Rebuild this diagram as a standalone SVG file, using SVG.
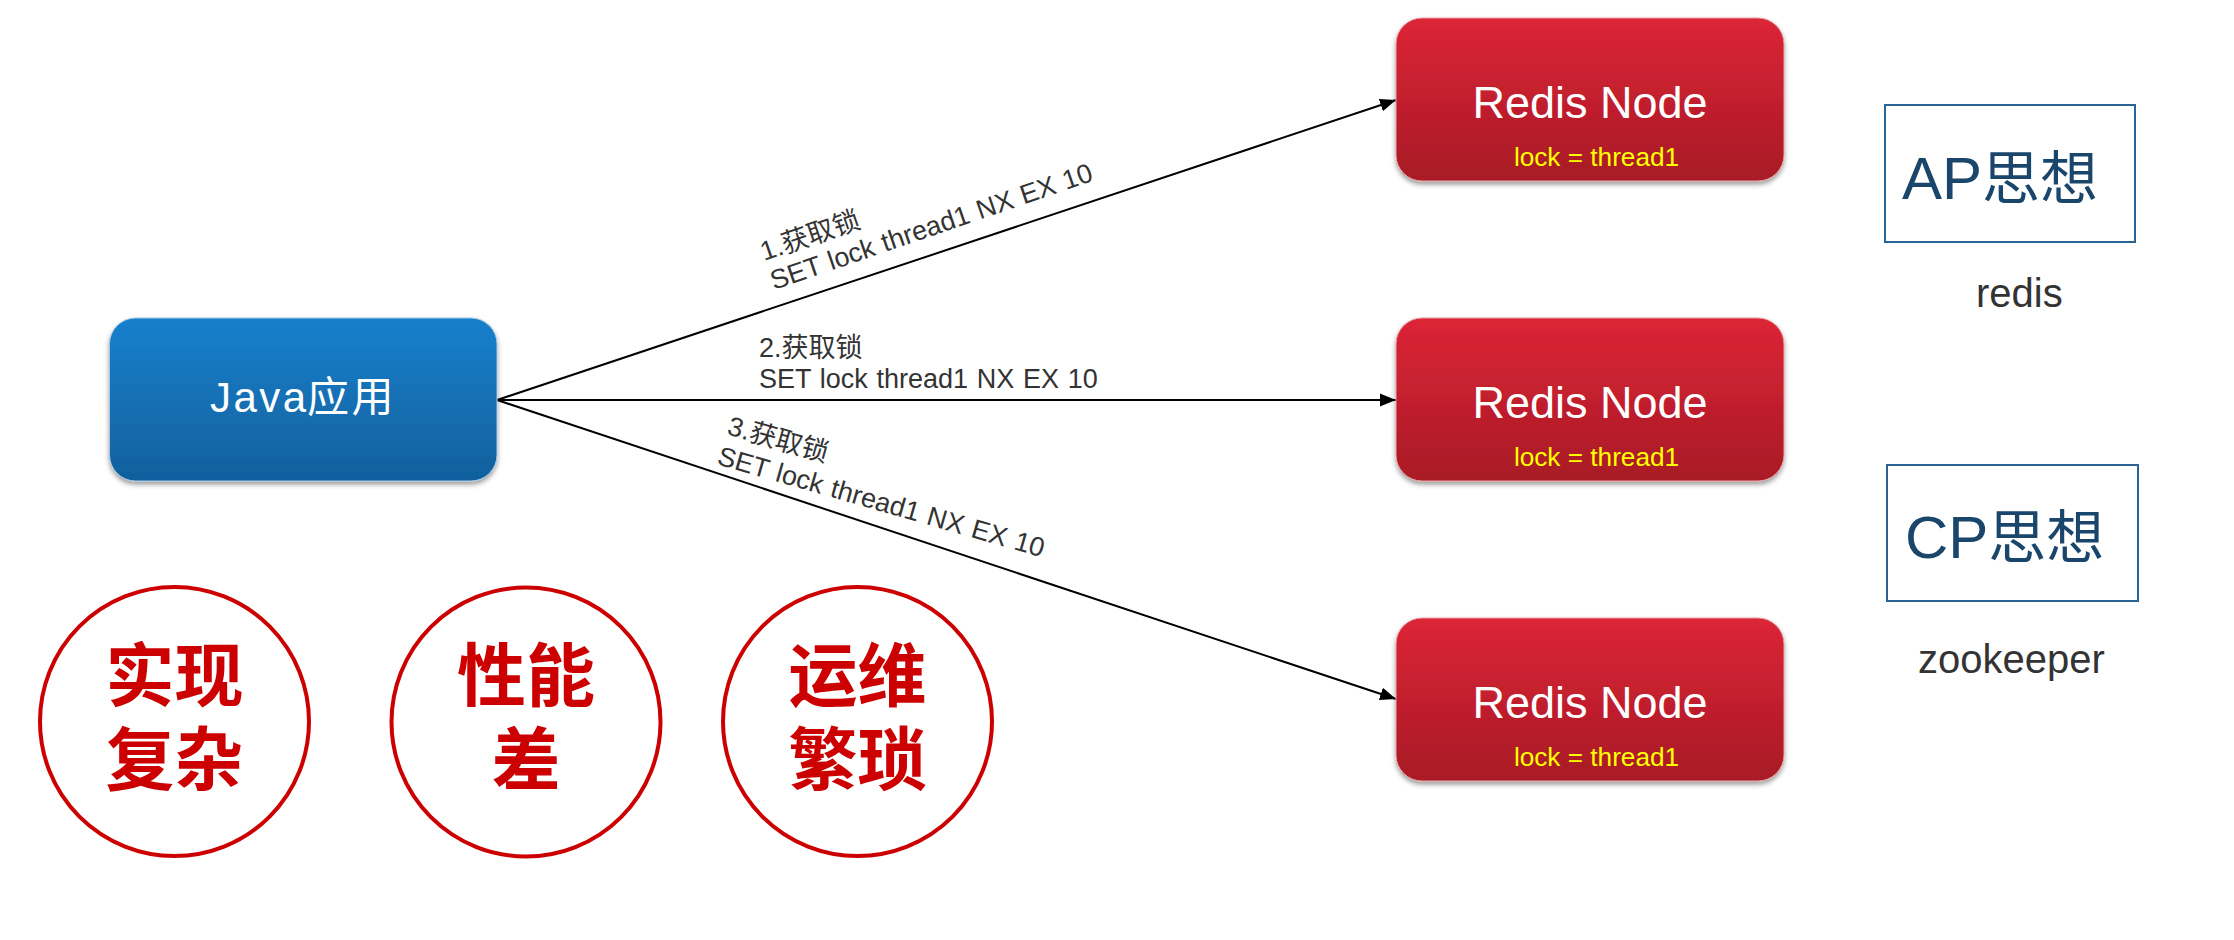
<svg xmlns="http://www.w3.org/2000/svg" width="2234" height="940" viewBox="0 0 2234 940">
<style>
text{font-family:"Liberation Sans","Noto Sans CJK SC",sans-serif}
.redis{fill:url(#red);stroke:#e8a0a6;stroke-width:1;filter:url(#shadow)}
.rtitle{fill:#fff;font-size:45px;text-anchor:middle}
.lock{fill:#ff0;font-size:26.200px;text-anchor:middle}
.edge{stroke:#000;stroke-width:2;fill:none;marker-end:url(#arrow)}
.lbl{fill:#333;font-size:27px;word-spacing:1.200px}
.cp{fill:#fff;stroke:#2a6496;stroke-width:2}
.cpt{fill:#1a466b;font-size:60px}
.cpt tspan{font-size:58px}
.sub{fill:#333;font-size:40px}
.ring{fill:#fff;stroke:#c00;stroke-width:4}
.big{fill:#c00;font-size:69px;font-weight:700;text-anchor:middle}
</style>
<defs>
<linearGradient id="blue" x1="0" y1="0" x2="0" y2="1"><stop offset="0" stop-color="#1580cc"/><stop offset="1" stop-color="#11609c"/></linearGradient>
<linearGradient id="red" x1="0" y1="0" x2="0" y2="1"><stop offset="0" stop-color="#dc2536"/><stop offset="1" stop-color="#a81a26"/></linearGradient>
<filter id="shadow" x="-5%" y="-5%" width="110%" height="115%"><feDropShadow dx="0" dy="3" stdDeviation="2.500" flood-color="#000" flood-opacity="0.400"/></filter>
<marker id="arrow" markerUnits="userSpaceOnUse" markerWidth="17" markerHeight="14" refX="16" refY="7" orient="auto"><path d="M0 0.500L16 7L0 13.500Z" fill="#000"/></marker>
</defs>
<g id="connectors">
<line class="edge" x1="497" y1="400" x2="1396" y2="100"/>
<line class="edge" x1="497" y1="400" x2="1396" y2="400"/>
<line class="edge" x1="497" y1="400" x2="1396" y2="699"/>
</g>
<g id="java"><rect x="109.500" y="318" width="387.500" height="163" rx="26" fill="url(#blue)" stroke="#a9c9e3" stroke-width="1" filter="url(#shadow)"/><text x="210" y="412" fill="#fff" font-size="42" letter-spacing="2.500">Java<tspan x="307">应用</tspan></text></g>
<g id="redis1"><rect class="redis" x="1396" y="18" width="388" height="163" rx="26"/><text class="rtitle" x="1590" y="118">Redis Node</text><text class="lock" x="1596.500" y="166">lock = thread1</text></g>
<g id="redis2"><rect class="redis" x="1396" y="318" width="388" height="163" rx="26"/><text class="rtitle" x="1590" y="418">Redis Node</text><text class="lock" x="1596.500" y="466">lock = thread1</text></g>
<g id="redis3"><rect class="redis" x="1396" y="618" width="388" height="163" rx="26"/><text class="rtitle" x="1590" y="718">Redis Node</text><text class="lock" x="1596.500" y="766">lock = thread1</text></g>
<g id="label1"><text class="lbl" transform="translate(764 261) rotate(-18.900)">1.获取锁</text><text class="lbl" transform="translate(774 290) rotate(-18.900)">SET lock thread1 NX EX 10</text></g>
<g id="label2"><text class="lbl" x="759" y="357">2.获取锁</text><text class="lbl" x="759" y="388">SET lock thread1 NX EX 10</text></g>
<g id="label3"><text class="lbl" transform="translate(726 434) rotate(16)">3.获取锁</text><text class="lbl" transform="translate(716 464) rotate(16)">SET lock thread1 NX EX 10</text></g>
<g id="ap"><rect class="cp" x="1885" y="105" width="250" height="137"/><text class="cpt" x="1902" y="199">AP<tspan>思想</tspan></text></g>
<g id="redis-label"><text class="sub" x="1976" y="307">redis</text></g>
<g id="cp"><rect class="cp" x="1887" y="465" width="251" height="136"/><text class="cpt" x="1905" y="558">CP<tspan>思想</tspan></text></g>
<g id="zk-label"><text class="sub" x="1918" y="673">zookeeper</text></g>
<g id="c1"><circle class="ring" cx="174.500" cy="721.500" r="134.500"/><text class="big" x="174.500" y="701">实现</text><text class="big" x="174.500" y="785">复杂</text></g>
<g id="c2"><circle class="ring" cx="526" cy="722" r="134.500"/><text class="big" x="526" y="701">性能</text><text class="big" x="526" y="785">差</text></g>
<g id="c3"><circle class="ring" cx="857.500" cy="721.500" r="134.500"/><text class="big" x="857.500" y="701">运维</text><text class="big" x="857.500" y="785">繁琐</text></g>
</svg>
